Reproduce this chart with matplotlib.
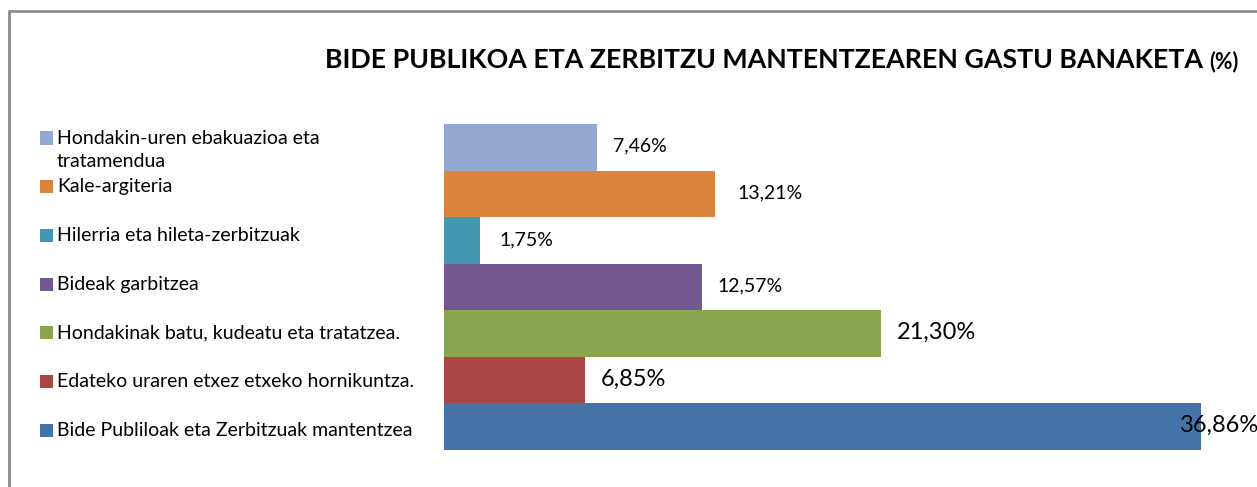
import matplotlib
matplotlib.use("Agg")
import matplotlib.pyplot as plt
from matplotlib.patches import Rectangle

# categories top to bottom, as in the chart
categories = [
    "Hondakin-uren ebakuazioa eta\ntratamendua",
    "Kale-argiteria",
    "Hilerria eta hileta-zerbitzuak",
    "Bideak garbitzea",
    "Hondakinak batu, kudeatu eta tratatzea.",
    "Edateko uraren etxez etxeko hornikuntza.",
    "Bide Publiloak eta Zerbitzuak mantentzea",
]
values = [7.46, 13.21, 1.75, 12.57, 21.30, 6.85, 36.86]
value_labels = ["7,46%", "13,21%", "1,75%", "12,57%", "21,30%", "6,85%", "36,86%"]
colors = ["#93A9CF", "#DB843D", "#4198AF", "#71588F", "#89A54E", "#AA4643", "#4572A7"]

# label styling (Excel put the last three in a bigger font)
label_sizes = [14, 14, 14, 14, 17, 17, 17]
label_offsets = [16, 22, 20, 15, 15, 16, -21]

W, H = 1257, 487
FONT = "Lato"
plt.rcParams["font.family"] = [FONT, "DejaVu Sans"]

fig = plt.figure(figsize=(W / 100, H / 100), dpi=100)

def fx(x):
    return x / W

def fy(y):
    return 1 - y / H

# outer frame (cut off on the right and bottom)
fig.add_artist(Rectangle((fx(9), fy(600)), 2, fy(11) - fy(600), transform=fig.transFigure,
                         fill=False, edgecolor="#8C8C8C", linewidth=2))

ax = fig.add_axes([fx(444), fy(450), fx(1201) - fx(444), fy(124) - fy(450)])
ypos = list(range(len(values)))
ax.barh(ypos, values, height=1.0, color=colors, edgecolor="none")
ax.set_xlim(0, max(values))
ax.set_ylim(len(values) - 0.5, -0.5)
ax.axis("off")

for y, v, lab, fs, off in zip(ypos, values, value_labels, label_sizes, label_offsets):
    ax.annotate(lab, (v, y), xytext=(off, 1), textcoords="offset pixels",
                ha="left", va="center", fontsize=fs, color="#000000",
                annotation_clip=False)

# legend, drawn by hand to keep the wrapped first entry
for i, (cat, col) in enumerate(zip(categories, colors)):
    yc = 138 + i * 48.7
    fig.add_artist(Rectangle((fx(40), fy(yc + 6.5)), fx(53) - fx(40), fy(yc - 6.5) - fy(yc + 6.5),
                             transform=fig.transFigure, facecolor=col, edgecolor="none"))
    for j, line in enumerate(cat.split("\n")):
        fig.text(fx(57), fy(yc + j * 24), line, ha="left", va="center", fontsize=14)

# title with the smaller "(%)" appended
t = fig.text(fx(325), fy(60), "BIDE PUBLIKOA ETA ZERBITZU MANTENTZEAREN GASTU BANAKETA",
             ha="left", va="center", fontsize=19.3, fontweight="bold")
fig.canvas.draw()
bb = t.get_window_extent()
fig.text((bb.x1 + 6) / W, fy(62), "(%)", ha="left", va="center", fontsize=15.5, fontweight="bold")

fig.savefig("out.png", dpi=100)
